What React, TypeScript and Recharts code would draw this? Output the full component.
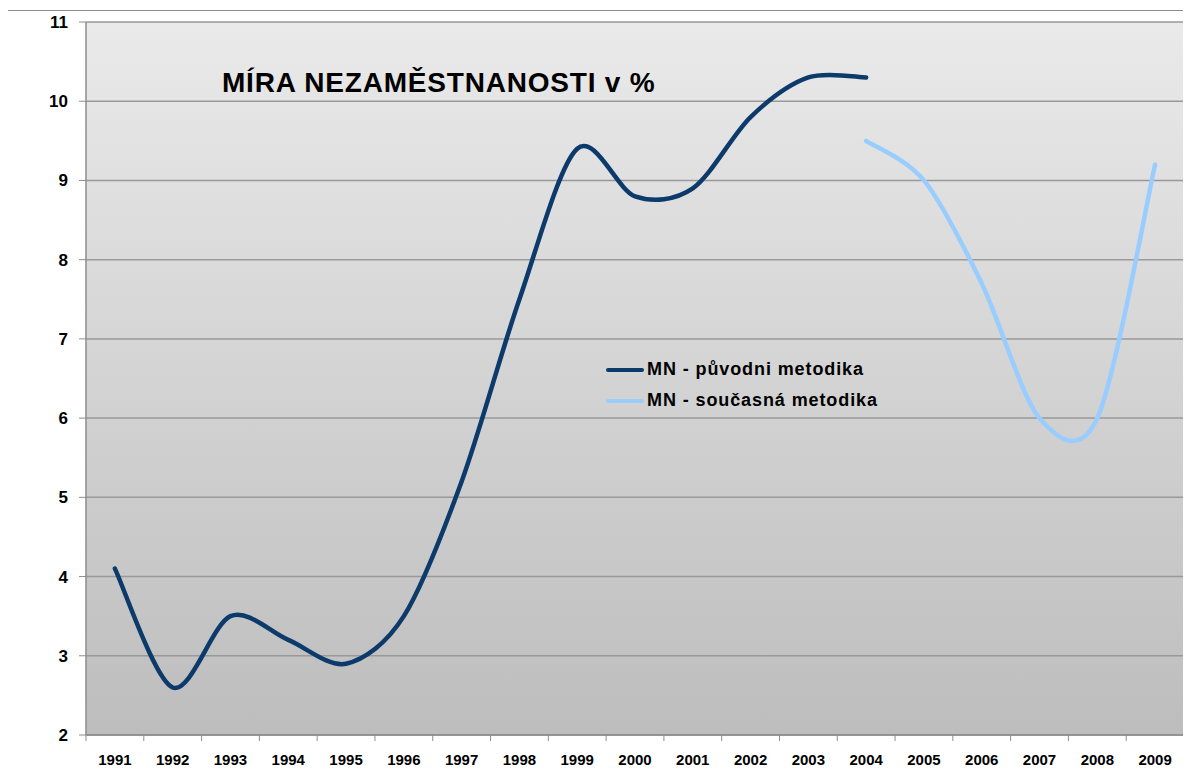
import { CartesianGrid, Legend, Line, LineChart, XAxis, YAxis } from "recharts";

const YEARS = [
  "1991", "1992", "1993", "1994", "1995", "1996", "1997", "1998", "1999", "2000",
  "2001", "2002", "2003", "2004", "2005", "2006", "2007", "2008", "2009",
];
// MN - původni metodika (1991–2004)
const ORIGINAL = [4.1, 2.6, 3.5, 3.2, 2.9, 3.5, 5.2, 7.5, 9.4, 8.8, 8.9, 9.8, 10.3, 10.3];
// MN - současná metodika (2004–2009)
const CURRENT = [9.5, 9.0, 7.7, 6.0, 6.0, 9.2];
const CURRENT_FROM = 13; // index of 2004
const Y_TICKS = [2, 3, 4, 5, 6, 7, 8, 9, 10, 11];

const FONT = '"Liberation Sans", Arial, sans-serif';
const DARK = "#0b3a6b";
const LIGHT = "#99ccff";

const data = YEARS.map((year, i) => ({
  year,
  original: i < ORIGINAL.length ? ORIGINAL[i] : null,
  current: i >= CURRENT_FROM ? CURRENT[i - CURRENT_FROM] : null,
}));

// Excel-style smoothing (Catmull-Rom through the points, slightly tighter)
function excelCurve(context: any) {
  let pts: number[][] = [];
  const k = 1 / 6.5;
  return {
    areaStart() {},
    areaEnd() {},
    lineStart() {
      pts = [];
    },
    point(x: number, y: number) {
      pts.push([+x, +y]);
    },
    lineEnd() {
      const n = pts.length;
      if (!n) return;
      context.moveTo(pts[0][0], pts[0][1]);
      for (let i = 0; i < n - 1; i++) {
        const p0 = pts[i - 1] || pts[i];
        const p1 = pts[i];
        const p2 = pts[i + 1];
        const p3 = pts[i + 2] || p2;
        context.bezierCurveTo(
          p1[0] + (p2[0] - p0[0]) * k,
          p1[1] + (p2[1] - p0[1]) * k,
          p2[0] - (p3[0] - p1[0]) * k,
          p2[1] - (p3[1] - p1[1]) * k,
          p2[0],
          p2[1],
        );
      }
    },
  };
}

const BAND = (1184 - 86) / YEARS.length;

function YearTick(props: any) {
  const { x, y, payload, index } = props;
  const half = payload?.offset || BAND / 2;
  return (
    <g>
      <line x1={x - half} x2={x - half} y1={y} y2={y + 6} stroke="#8c8c8c" />
      {index === YEARS.length - 1 && (
        <line x1={x + half} x2={x + half} y1={y} y2={y + 6} stroke="#8c8c8c" />
      )}
      <text
        x={x}
        y={y + 30}
        textAnchor="middle"
        fontFamily={FONT}
        fontWeight="bold"
        fontSize={15}
        fill="#000"
      >
        {payload.value}
      </text>
    </g>
  );
}

function LegendBox() {
  const rows = [
    { color: DARK, label: "MN - původni metodika" },
    { color: LIGHT, label: "MN - současná metodika" },
  ];
  return (
    <div style={{ fontFamily: FONT }}>
      {rows.map((r) => (
        <div key={r.label} style={{ display: "flex", alignItems: "center", height: 31 }}>
          <div style={{ width: 38, height: 4, background: r.color, borderRadius: 2, marginRight: 3 }} />
          <span style={{ fontWeight: "bold", fontSize: 18, letterSpacing: 0.9, color: "#000" }}>
            {r.label}
          </span>
        </div>
      ))}
    </div>
  );
}

export default function App() {
  return (
    <div style={{ position: "relative", margin: -8, width: 1191, height: 778, background: "#fff", overflow: "hidden" }}>
      <div
        style={{
          position: "absolute",
          left: 6,
          top: 10,
          width: 1300,
          height: 900,
          borderLeft: "1px solid #8c8c8c",
          borderTop: "1px solid #8c8c8c",
        }}
      />
      <div style={{ position: "absolute", left: 0, top: 0 }}>
        <LineChart
          width={1191}
          height={778}
          data={data}
          margin={{ top: 22, right: 7, bottom: 0, left: 0 }}
        >
          <defs>
            <linearGradient id="plotBg" x1="0" y1="0" x2="0" y2="1">
              <stop offset="0%" stopColor="#eaeaea" />
              <stop offset="100%" stopColor="#bdbdbd" />
            </linearGradient>
          </defs>
          <CartesianGrid
            vertical={false}
            fill="url(#plotBg)"
            fillOpacity={1}
            stroke="#999"
            strokeWidth={1.5}
          />
          <XAxis
            dataKey="year"
            scale="band"
            height={43}
            interval={0}
            tickLine={false}
            tickSize={0}
            tickMargin={0}
            axisLine={{ stroke: "#8c8c8c", strokeWidth: 1.5 }}
            tick={<YearTick />}
          />
          <YAxis
            width={86}
            domain={[2, 11]}
            ticks={Y_TICKS}
            interval={0}
            tickSize={7}
            tickMargin={11}
            tickLine={{ stroke: "#8c8c8c" }}
            axisLine={{ stroke: "#8c8c8c", strokeWidth: 1.5 }}
            tick={{ fontFamily: FONT, fontWeight: "bold", fontSize: 17, fill: "#000" }}
          />
          <Legend
            layout="vertical"
            align="center"
            verticalAlign="middle"
            wrapperStyle={{ left: 606, top: 354, width: 320 }}
            content={<LegendBox />}
          />
          <Line
            dataKey="original"
            type={excelCurve as any}
            stroke={DARK}
            strokeWidth={4.5}
            dot={false}
            strokeLinecap="round"
            isAnimationActive={false}
          />
          <Line
            dataKey="current"
            type={excelCurve as any}
            stroke={LIGHT}
            strokeWidth={4.5}
            dot={false}
            strokeLinecap="round"
            isAnimationActive={false}
          />
        </LineChart>
      </div>
      <div
        style={{
          position: "absolute",
          left: 222,
          top: 69,
          fontFamily: FONT,
          fontWeight: "bold",
          fontSize: 28,
          letterSpacing: 0.8,
          lineHeight: 1,
          whiteSpace: "nowrap",
          color: "#000",
        }}
      >
        MÍRA NEZAMĚSTNANOSTI v %
      </div>
    </div>
  );
}
